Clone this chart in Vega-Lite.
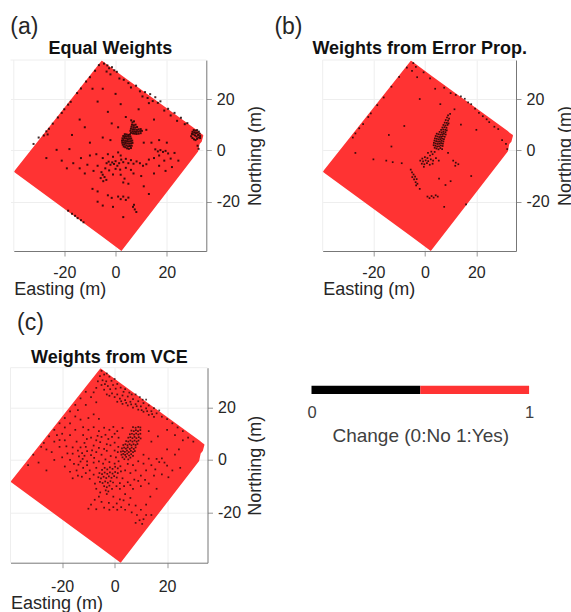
{"$schema":"https://vega.github.io/schema/vega-lite/v6.json","padding":{"left":9.5,"top":16,"right":0,"bottom":0},"background":"white","bounds":"flush","spacing":307.7,"config":{"font":"Liberation Sans","view":{"stroke":null},"axis":{"labelColor":"#262626","titleColor":"#262626","labelFontSize":16,"titleFontSize":18,"titleFontWeight":"normal","gridColor":"#eeeeee","domainColor":"#777777","tickColor":"#999999","tickSize":5,"labelPadding":5},"title":{"fontSize":23,"fontWeight":"normal","color":"#262626","anchor":"start"}},"datasets":{"outline":[{"e":-39.7,"lo":-8.3,"hi":-8.3},{"e":-5.4,"lo":-33.5,"hi":35},{"e":2.3,"lo":-39.2,"hi":29.3},{"e":32.2,"lo":-0.4,"hi":7.5},{"e":32.8,"lo":2.5,"hi":7},{"e":33.6,"lo":3.4,"hi":6.4},{"e":34.2,"lo":5.6,"hi":6}],"a":[{"x":3.2,"y":1.5},{"x":3.8,"y":1.2},{"x":4.5,"y":0.8},{"x":5.2,"y":0.6},{"x":6,"y":0.9},{"x":2.8,"y":2.2},{"x":3.5,"y":2.3},{"x":4.2,"y":1.9},{"x":4.9,"y":1.6},{"x":5.6,"y":1.7},{"x":6.3,"y":1.8},{"x":2.6,"y":3},{"x":3.2,"y":3.1},{"x":3.9,"y":2.9},{"x":4.6,"y":2.7},{"x":5.3,"y":2.6},{"x":6,"y":2.7},{"x":6.6,"y":2.9},{"x":2.5,"y":3.8},{"x":3.1,"y":4},{"x":3.8,"y":3.7},{"x":4.5,"y":3.6},{"x":5.2,"y":3.5},{"x":5.9,"y":3.6},{"x":6.5,"y":3.8},{"x":2.7,"y":4.7},{"x":3.4,"y":4.8},{"x":4.1,"y":4.6},{"x":4.8,"y":4.4},{"x":5.5,"y":4.5},{"x":6.1,"y":4.6},{"x":3,"y":5.6},{"x":3.7,"y":5.5},{"x":4.4,"y":5.4},{"x":5.1,"y":5.3},{"x":5.8,"y":5.4},{"x":3.6,"y":6.3},{"x":4.3,"y":6.2},{"x":5,"y":6},{"x":5.6,"y":6.2},{"x":6,"y":6.8},{"x":6.8,"y":6.6},{"x":7.5,"y":6.5},{"x":8.2,"y":6.4},{"x":9,"y":6.5},{"x":9.8,"y":6.7},{"x":5.8,"y":7.6},{"x":6.6,"y":7.4},{"x":7.3,"y":7.3},{"x":8,"y":7.2},{"x":8.8,"y":7.3},{"x":9.6,"y":7.5},{"x":10.3,"y":7.6},{"x":6,"y":8.4},{"x":6.8,"y":8.2},{"x":7.5,"y":8.1},{"x":8.3,"y":8},{"x":9,"y":8.2},{"x":9.8,"y":8.3},{"x":6.2,"y":9.2},{"x":7,"y":9},{"x":7.7,"y":8.9},{"x":8.4,"y":9.1},{"x":6.4,"y":10},{"x":7.1,"y":9.8},{"x":7.8,"y":10},{"x":6.6,"y":10.9},{"x":7.2,"y":11.3},{"x":6.1,"y":11.7},{"x":29.5,"y":5.5},{"x":30,"y":4.8},{"x":30.6,"y":4.3},{"x":31.2,"y":4},{"x":31.8,"y":4.5},{"x":32.4,"y":5},{"x":33,"y":5.6},{"x":29.8,"y":6.4},{"x":30.4,"y":6.2},{"x":31,"y":5.8},{"x":31.6,"y":5.4},{"x":32.2,"y":6},{"x":32.8,"y":6.5},{"x":30,"y":7.2},{"x":30.7,"y":7},{"x":31.3,"y":6.7},{"x":31.9,"y":6.9},{"x":32.5,"y":7.3},{"x":30.5,"y":7.9},{"x":31.2,"y":7.7},{"x":31.8,"y":7.9},{"x":33,"y":4.8},{"x":32,"y":1.8},{"x":32.4,"y":0.6},{"x":-4.5,"y":33.8},{"x":-3.2,"y":33.1},{"x":-2.5,"y":32},{"x":-1.4,"y":32.4},{"x":-0.5,"y":31.2},{"x":-3.5,"y":30.7},{"x":-2,"y":29.6},{"x":0.5,"y":30.6},{"x":1.5,"y":28},{"x":3.2,"y":27.5},{"x":5,"y":26.2},{"x":6,"y":24.5},{"x":8,"y":25.2},{"x":9.5,"y":23},{"x":10.5,"y":21},{"x":11.5,"y":22.7},{"x":12.5,"y":20.4},{"x":13,"y":18.4},{"x":13.5,"y":21.9},{"x":14.5,"y":19.2},{"x":15.5,"y":20.7},{"x":16.5,"y":18.5},{"x":17.5,"y":19.1},{"x":19,"y":15.5},{"x":20.5,"y":16.2},{"x":21.5,"y":13.6},{"x":23,"y":14.6},{"x":24,"y":11.5},{"x":25.5,"y":12.7},{"x":27,"y":10.2},{"x":28,"y":10.6},{"x":-6.5,"y":33.2},{"x":-8,"y":31},{"x":-10,"y":28.5},{"x":-11.5,"y":26.8},{"x":-13.5,"y":24.1},{"x":-15,"y":22.3},{"x":-17.5,"y":18.9},{"x":-18.5,"y":17.8},{"x":-20,"y":16},{"x":-21,"y":14.6},{"x":-22.5,"y":12.8},{"x":-24.5,"y":10.4},{"x":-26,"y":8.4},{"x":-27,"y":7.4},{"x":-28,"y":5.8},{"x":-26.5,"y":6.2},{"x":-9,"y":24},{"x":-7,"y":19},{"x":-3,"y":15},{"x":-1.5,"y":10.5},{"x":1,"y":9},{"x":-10,"y":3},{"x":-18,"y":0.5},{"x":-23,"y":0.2},{"x":-13.5,"y":-3},{"x":-10,"y":-2},{"x":-7.5,"y":-1.5},{"x":-5,"y":-3},{"x":-3,"y":-1.5},{"x":-1,"y":-2.5},{"x":1,"y":-0.8},{"x":2,"y":-2},{"x":-3.5,"y":-5},{"x":-2.7,"y":-4.4},{"x":-2,"y":-5.6},{"x":-1.3,"y":-4.7},{"x":-0.6,"y":-5.3},{"x":0,"y":-4.2},{"x":0.7,"y":-6},{"x":1.4,"y":-5},{"x":2.2,"y":-3.6},{"x":3,"y":-4.6},{"x":4,"y":-3.3},{"x":5,"y":-5},{"x":6,"y":-3.8},{"x":7,"y":-5.2},{"x":8.2,"y":-4.3},{"x":9.5,"y":-5},{"x":10.7,"y":-6},{"x":12,"y":-5.4},{"x":13,"y":-3.6},{"x":15.5,"y":0.4},{"x":16.5,"y":-0.4},{"x":17.5,"y":0.1},{"x":18.5,"y":-0.6},{"x":19.5,"y":-0.2},{"x":20.5,"y":-1.2},{"x":19,"y":-4},{"x":21.5,"y":-3.2},{"x":17,"y":-6},{"x":22,"y":-6.5},{"x":19.5,"y":-8},{"x":15,"y":-9},{"x":-5.5,"y":-8.5},{"x":-5,"y":-9.5},{"x":-4.3,"y":-10.4},{"x":-3.6,"y":-11.5},{"x":-5.8,"y":-10.8},{"x":-4.8,"y":-12},{"x":2,"y":-9.5},{"x":3.5,"y":-11},{"x":3,"y":-12.5},{"x":5,"y":-13},{"x":7,"y":-9},{"x":10,"y":-10},{"x":-9,"y":-15},{"x":-7,"y":-16},{"x":-3,"y":-17.5},{"x":-1.5,"y":-18.5},{"x":1,"y":-18},{"x":2,"y":-19},{"x":3,"y":-18},{"x":4,"y":-19.3},{"x":5,"y":-18.4},{"x":6.8,"y":-22},{"x":7.5,"y":-23},{"x":8.1,"y":-24},{"x":7.2,"y":-21.2},{"x":-18.5,"y":-23.5},{"x":-17,"y":-24.7},{"x":-15.8,"y":-25.5},{"x":-14.8,"y":-26.4},{"x":-13.5,"y":-27.2},{"x":-12.5,"y":-28},{"x":-27,"y":-3},{"x":-21,"y":-4},{"x":-30,"y":5},{"x":-32,"y":2.5},{"x":-4,"y":-7},{"x":-2.5,"y":-7.8},{"x":0,"y":-7.2},{"x":-1,"y":-9.4},{"x":1.8,"y":-7.5},{"x":4,"y":-6.8},{"x":6,"y":-7.6},{"x":-7,"y":-6},{"x":-8.6,"y":-8},{"x":-11,"y":-5.6},{"x":-12,"y":-9},{"x":-14,"y":-7},{"x":-16.5,"y":-5},{"x":-19,"y":-7},{"x":15,"y":-3},{"x":17,"y":-2},{"x":14,"y":3},{"x":17,"y":4},{"x":20,"y":3},{"x":23,"y":-1},{"x":24.5,"y":-4},{"x":11,"y":3},{"x":12,"y":8},{"x":15,"y":12},{"x":9,"y":16},{"x":2,"y":18},{"x":4,"y":13},{"x":-5,"y":24},{"x":0,"y":22},{"x":-14,"y":12},{"x":-12,"y":9},{"x":-17,"y":6},{"x":-5,"y":5},{"x":-2,"y":4},{"x":-7,"y":-20},{"x":-5,"y":-21.5},{"x":-1,"y":-22},{"x":11,"y":-14},{"x":13,"y":-17},{"x":3,"y":-26}],"b":[{"x":3.8,"y":1},{"x":4.5,"y":0.7},{"x":5.3,"y":0.4},{"x":6,"y":0.9},{"x":6.7,"y":0.5},{"x":3.4,"y":2},{"x":4.1,"y":1.8},{"x":4.8,"y":1.5},{"x":5.5,"y":1.6},{"x":6.2,"y":1.9},{"x":6.9,"y":1.7},{"x":3.5,"y":2.9},{"x":4.2,"y":2.7},{"x":4.9,"y":2.5},{"x":5.6,"y":2.6},{"x":6.3,"y":2.8},{"x":7,"y":2.6},{"x":3.7,"y":3.8},{"x":4.4,"y":3.6},{"x":5.1,"y":3.4},{"x":5.8,"y":3.5},{"x":6.5,"y":3.7},{"x":7.2,"y":3.5},{"x":3.9,"y":4.7},{"x":4.6,"y":4.5},{"x":5.3,"y":4.3},{"x":6,"y":4.4},{"x":6.7,"y":4.6},{"x":7.4,"y":4.4},{"x":4.2,"y":5.6},{"x":4.9,"y":5.4},{"x":5.6,"y":5.2},{"x":6.3,"y":5.3},{"x":7,"y":5.5},{"x":7.7,"y":5.3},{"x":4.6,"y":6.5},{"x":5.3,"y":6.3},{"x":6,"y":6.1},{"x":6.7,"y":6.2},{"x":7.4,"y":6.4},{"x":8.1,"y":6.2},{"x":5.7,"y":7.2},{"x":6.5,"y":7},{"x":7.2,"y":7.2},{"x":8,"y":7.1},{"x":6.3,"y":8},{"x":7.1,"y":8.1},{"x":7.9,"y":8},{"x":8.5,"y":7.8},{"x":6.8,"y":8.9},{"x":7.6,"y":9},{"x":8.4,"y":8.8},{"x":7.2,"y":9.9},{"x":8,"y":9.7},{"x":8.8,"y":9.9},{"x":7.7,"y":10.8},{"x":8.5,"y":10.7},{"x":9.2,"y":10.5},{"x":8.1,"y":11.8},{"x":9,"y":11.6},{"x":8.6,"y":12.8},{"x":9.4,"y":12.4},{"x":9,"y":13.6},{"x":9.8,"y":14.2},{"x":11.5,"y":16},{"x":2.5,"y":-0.5},{"x":3,"y":-1.5},{"x":2,"y":-2},{"x":1.2,"y":-1},{"x":3.8,"y":-0.6},{"x":1,"y":-3},{"x":0,"y":-2.6},{"x":-1,"y":-3.2},{"x":-1.8,"y":-4},{"x":-0.7,"y":-4.3},{"x":0.3,"y":-3.9},{"x":1.3,"y":-4.2},{"x":2.3,"y":-3.5},{"x":3.2,"y":-4},{"x":-1.2,"y":-5.2},{"x":-0.2,"y":-5.4},{"x":0.8,"y":-5},{"x":1.9,"y":-5.6},{"x":3,"y":-5.2},{"x":4.3,"y":-3},{"x":5.4,"y":-4},{"x":-0.4,"y":-6.4},{"x":11,"y":-4},{"x":12,"y":-4.8},{"x":13,"y":-5.4},{"x":11.8,"y":-6},{"x":9,"y":-1},{"x":-5.5,"y":-7.5},{"x":-5,"y":-8.6},{"x":-4.4,"y":-9.4},{"x":-4.9,"y":-10.4},{"x":-3.8,"y":-10.2},{"x":-4.2,"y":-11.3},{"x":-3.2,"y":-11.2},{"x":-3.6,"y":-12.4},{"x":-2.9,"y":-13},{"x":-3.4,"y":-13.6},{"x":1,"y":-18},{"x":1.8,"y":-18.6},{"x":2.6,"y":-17.8},{"x":3.4,"y":-18.4},{"x":4.2,"y":-17.5},{"x":5,"y":-18},{"x":8,"y":-13.5},{"x":5.5,"y":-11},{"x":10,"y":-12},{"x":-2,"y":-15},{"x":7.5,"y":-22},{"x":-9,"y":-5},{"x":-12.5,"y":-4.6},{"x":-15,"y":-4},{"x":-20,"y":-3.5},{"x":-4.5,"y":34},{"x":-3.5,"y":32.5},{"x":-5,"y":31},{"x":-3,"y":28.5},{"x":-0.5,"y":30.4},{"x":2,"y":28},{"x":4,"y":24},{"x":7.5,"y":24.4},{"x":10,"y":22.3},{"x":12,"y":21.6},{"x":14,"y":21},{"x":15.5,"y":20.1},{"x":16.8,"y":18.7},{"x":18,"y":18},{"x":19.5,"y":16.3},{"x":21,"y":14.6},{"x":22.5,"y":13.3},{"x":24,"y":12.1},{"x":25,"y":11},{"x":27,"y":9.2},{"x":28.5,"y":8.3},{"x":31.5,"y":2.5},{"x":32,"y":0.5},{"x":30,"y":4},{"x":-7,"y":32.2},{"x":-10,"y":28.6},{"x":-13,"y":24.8},{"x":-16,"y":20.6},{"x":-18.5,"y":17.6},{"x":-21,"y":14.4},{"x":-22,"y":13},{"x":-24,"y":10.2},{"x":-25.5,"y":8.6},{"x":-27,"y":6.6},{"x":-28,"y":5},{"x":-8,"y":9.5},{"x":-13,"y":1.5},{"x":-27,"y":-1},{"x":-14,"y":6},{"x":-2,"y":20},{"x":6,"y":18},{"x":14,"y":10},{"x":20,"y":8},{"x":18,"y":-10},{"x":16,"y":-21}],"c":[{"x":3,"y":1},{"x":3.7,"y":0.3},{"x":4.4,"y":1.2},{"x":5.2,"y":0.2},{"x":6,"y":0.9},{"x":2.6,"y":2},{"x":3.3,"y":2.3},{"x":4,"y":1.9},{"x":4.8,"y":2.4},{"x":5.5,"y":1.7},{"x":6.3,"y":2.2},{"x":7,"y":1.6},{"x":2.4,"y":3.2},{"x":3.2,"y":3.4},{"x":3.9,"y":3.1},{"x":4.7,"y":3.6},{"x":5.4,"y":3},{"x":6.2,"y":3.5},{"x":7,"y":3},{"x":7.7,"y":3.4},{"x":2.8,"y":4.4},{"x":3.6,"y":4.7},{"x":4.3,"y":4.3},{"x":5,"y":4.8},{"x":5.8,"y":4.2},{"x":6.5,"y":4.7},{"x":7.3,"y":4.2},{"x":8,"y":4.8},{"x":3.3,"y":5.7},{"x":4.1,"y":6},{"x":4.9,"y":5.6},{"x":5.7,"y":6},{"x":6.4,"y":5.6},{"x":7.2,"y":6},{"x":8,"y":5.7},{"x":8.7,"y":6.1},{"x":4.4,"y":7.2},{"x":5.2,"y":7},{"x":6,"y":7.4},{"x":6.8,"y":7},{"x":7.6,"y":7.4},{"x":8.4,"y":7},{"x":9.1,"y":7.4},{"x":5.2,"y":8.5},{"x":6,"y":8.7},{"x":6.8,"y":8.3},{"x":7.6,"y":8.8},{"x":8.3,"y":8.3},{"x":9.2,"y":8.7},{"x":9.9,"y":8.2},{"x":5.8,"y":9.8},{"x":6.6,"y":10},{"x":7.4,"y":9.7},{"x":8.2,"y":10.1},{"x":9,"y":9.7},{"x":9.8,"y":10},{"x":6.4,"y":11.2},{"x":7.3,"y":11},{"x":8.1,"y":11.4},{"x":8.9,"y":11},{"x":9.8,"y":11.4},{"x":7,"y":12.5},{"x":8,"y":12.3},{"x":9,"y":12.6},{"x":9.8,"y":12.4},{"x":1.5,"y":-0.5},{"x":0.5,"y":1},{"x":1.2,"y":3},{"x":0,"y":3.6},{"x":1.4,"y":5},{"x":0,"y":6.6},{"x":-4.8,"y":-3.8},{"x":-3.8,"y":-3},{"x":-2.8,"y":-3.6},{"x":-1.8,"y":-2.8},{"x":-0.8,"y":-3.4},{"x":0.2,"y":-2.6},{"x":1.2,"y":-3.2},{"x":2.2,"y":-2.4},{"x":-5.8,"y":-5},{"x":-4.8,"y":-5.4},{"x":-3.8,"y":-4.8},{"x":-2.8,"y":-5.3},{"x":-1.8,"y":-4.7},{"x":-0.8,"y":-5.2},{"x":0.2,"y":-4.6},{"x":1.2,"y":-5},{"x":2.4,"y":-4.4},{"x":-6.2,"y":-6.6},{"x":-5.2,"y":-7},{"x":-4.2,"y":-6.4},{"x":-3.2,"y":-6.9},{"x":-2.2,"y":-6.3},{"x":-1.2,"y":-6.8},{"x":-0.2,"y":-6.2},{"x":0.8,"y":-6.7},{"x":-5.6,"y":-8.4},{"x":-4.6,"y":-8.8},{"x":-3.6,"y":-8.2},{"x":-2.6,"y":-8.7},{"x":-1.6,"y":-8.1},{"x":-0.6,"y":-8.6},{"x":-4,"y":-10},{"x":-3,"y":-10.4},{"x":-2,"y":-9.8},{"x":-3.4,"y":-11.6},{"x":-2.4,"y":-12},{"x":-3,"y":-13},{"x":-5,"y":34},{"x":-4,"y":32.6},{"x":-5.6,"y":32},{"x":-3,"y":33},{"x":-2,"y":31.8},{"x":-4.6,"y":30.4},{"x":-3.2,"y":30},{"x":-1.2,"y":30.2},{"x":0,"y":30.9},{"x":-6.4,"y":30},{"x":-5,"y":28.6},{"x":-2.6,"y":28.2},{"x":-0.6,"y":28.6},{"x":1,"y":29},{"x":-7,"y":27.5},{"x":-4,"y":26.8},{"x":-8,"y":25.8},{"x":2.3,"y":27.6},{"x":-3,"y":25},{"x":-2,"y":24.5},{"x":-1,"y":25.4},{"x":0,"y":24},{"x":1,"y":25},{"x":2,"y":23.4},{"x":3,"y":24.6},{"x":4,"y":22.8},{"x":5,"y":24.2},{"x":6,"y":22.2},{"x":7,"y":23.2},{"x":8,"y":21.3},{"x":9,"y":22.4},{"x":10,"y":20.4},{"x":11,"y":21.7},{"x":12,"y":19.7},{"x":13,"y":20.8},{"x":14,"y":18.6},{"x":15,"y":19.8},{"x":16,"y":17.8},{"x":17,"y":18.9},{"x":1,"y":22.2},{"x":3,"y":21.4},{"x":5,"y":20.8},{"x":7,"y":20},{"x":9,"y":19.2},{"x":11,"y":18.4},{"x":13,"y":17.2},{"x":15,"y":16.4},{"x":18,"y":16.5},{"x":20,"y":15.6},{"x":22,"y":14},{"x":24,"y":12.4},{"x":26,"y":11},{"x":20,"y":11.5},{"x":23,"y":9.5},{"x":26,"y":7.5},{"x":28,"y":8.5},{"x":30,"y":7},{"x":4,"y":27},{"x":8,"y":25},{"x":12,"y":23},{"x":-9,"y":24},{"x":-11,"y":26},{"x":-13,"y":23.5},{"x":-15,"y":21},{"x":-17,"y":18.5},{"x":-19,"y":16},{"x":-21,"y":14},{"x":-23,"y":11.5},{"x":-25,"y":9},{"x":-27,"y":6.5},{"x":-28,"y":5},{"x":-14,"y":19},{"x":-11,"y":21},{"x":-7,"y":22},{"x":-17,"y":14},{"x":-20,"y":10},{"x":-23,"y":7},{"x":-26,"y":4},{"x":-24,"y":3},{"x":-21,"y":5},{"x":-19,"y":7.5},{"x":-17,"y":9.5},{"x":-15,"y":11.5},{"x":-12,"y":12.5},{"x":-10,"y":11.5},{"x":-8,"y":12.5},{"x":-6,"y":11},{"x":-4,"y":12.3},{"x":-2,"y":11.5},{"x":-0.5,"y":12.6},{"x":1,"y":11},{"x":3,"y":12.2},{"x":-12,"y":9.5},{"x":-9,"y":8.5},{"x":-6.5,"y":9.2},{"x":-3.5,"y":9.6},{"x":-1,"y":8.8},{"x":1.5,"y":8.5},{"x":-14.5,"y":7},{"x":-11.5,"y":6.5},{"x":-8,"y":5.5},{"x":-5.5,"y":6.8},{"x":-3,"y":6},{"x":-16,"y":4.8},{"x":-14,"y":3.6},{"x":-13,"y":4.8},{"x":-12.4,"y":2.6},{"x":-13.6,"y":1.4},{"x":-12.2,"y":0.4},{"x":-13,"y":-0.6},{"x":-10.5,"y":3.4},{"x":-9,"y":1.8},{"x":-7,"y":3},{"x":-5,"y":2},{"x":-3,"y":3.5},{"x":-1.5,"y":1.5},{"x":-18,"y":2.5},{"x":-20,"y":1},{"x":-23,"y":0},{"x":-17,"y":0},{"x":-15.5,"y":-1.5},{"x":-10.5,"y":-0.5},{"x":-8,"y":-1},{"x":-6,"y":-0.5},{"x":-3.5,"y":0.2},{"x":-19,"y":-2.5},{"x":-17,"y":-4.5},{"x":-14.5,"y":-4},{"x":-12,"y":-3},{"x":-9.5,"y":-4},{"x":-7,"y":-3},{"x":-16,"y":-7},{"x":-12.5,"y":-6.4},{"x":-9.5,"y":-7.2},{"x":-7.5,"y":-9},{"x":5,"y":-1.5},{"x":7,"y":-2},{"x":9,"y":-0.5},{"x":11,"y":-1.4},{"x":4,"y":-4},{"x":6,"y":-5},{"x":8,"y":-4},{"x":10,"y":-6},{"x":3,"y":-7},{"x":5,"y":-8.5},{"x":7.5,"y":-7.5},{"x":12,"y":-4},{"x":14,"y":-2},{"x":16,"y":0.4},{"x":17,"y":-0.8},{"x":18,"y":0.6},{"x":19,"y":-1},{"x":20,"y":-2.2},{"x":15,"y":-6},{"x":18,"y":-5.5},{"x":22,"y":-4},{"x":25,"y":-3},{"x":13,"y":-9},{"x":16,"y":-11},{"x":2,"y":-11},{"x":4,"y":-13},{"x":7,"y":-11},{"x":10,"y":-10},{"x":-0.5,"y":-14},{"x":2,"y":-15},{"x":6,"y":-14.5},{"x":-6,"y":-14},{"x":-9,"y":-17},{"x":-10,"y":-18.6},{"x":-7,"y":-18.8},{"x":-4,"y":-18.2},{"x":-2,"y":-19},{"x":-0.5,"y":-18},{"x":1,"y":-19},{"x":2.5,"y":-18},{"x":4,"y":-19},{"x":6.5,"y":-20},{"x":8.5,"y":-21},{"x":9.5,"y":-23},{"x":10.5,"y":-24.4},{"x":8,"y":-24},{"x":12,"y":-17},{"x":14,"y":-21},{"x":-29,"y":-1},{"x":-31,"y":2},{"x":-33,"y":-2},{"x":-26,"y":-4},{"x":-3.7,"y":28.9},{"x":-1.7,"y":27},{"x":0.4,"y":27.2},{"x":3.4,"y":26},{"x":5.6,"y":25.7},{"x":6.5,"y":25},{"x":9.6,"y":24},{"x":10.7,"y":23},{"x":2.5,"y":22.4},{"x":4.4,"y":21.8},{"x":6.3,"y":21.2},{"x":8.4,"y":20.5},{"x":10.3,"y":19},{"x":12.4,"y":18.6},{"x":14.3,"y":17.5},{"x":-10,"y":16},{"x":-8,"y":17.4},{"x":-6,"y":15.7},{"x":-13,"y":15.4},{"x":-15,"y":16.6},{"x":-19,"y":12.4},{"x":-22,"y":9.5},{"x":-21,"y":7.6},{"x":-18.4,"y":5.2},{"x":-16,"y":2.4},{"x":-10.6,"y":8},{"x":-7,"y":7.5},{"x":-5,"y":8.8},{"x":-2.4,"y":8},{"x":0,"y":10},{"x":-11,"y":5},{"x":-8.6,"y":3.7},{"x":-6,"y":4.6},{"x":-4,"y":4.2},{"x":-1.6,"y":5.6},{"x":-11.5,"y":1.6},{"x":-7.8,"y":0.8},{"x":-4.4,"y":-1.4},{"x":-2,"y":-0.8},{"x":0,"y":-1.4},{"x":-13.8,"y":-1.8},{"x":-11,"y":-5},{"x":-8,"y":-5.6},{"x":-10.5,"y":-2},{"x":-14,"y":-6},{"x":-7,"y":-11},{"x":-5.5,"y":-12.4},{"x":-1,"y":-11},{"x":0.7,"y":-10},{"x":2,"y":-8.8},{"x":3.6,"y":-10},{"x":6,"y":-9.6},{"x":9,"y":-8},{"x":11.6,"y":-7.6},{"x":3.4,"y":-15.4},{"x":0.8,"y":-16.6},{"x":-2.2,"y":-16.4},{"x":-5,"y":-16},{"x":-7.6,"y":-15.2},{"x":5.5,"y":-17},{"x":8,"y":-17.4},{"x":10,"y":-19},{"x":12,"y":-21},{"x":11,"y":-22.6},{"x":13.6,"y":-14},{"x":15.5,"y":-3.6},{"x":20.5,"y":-6.6},{"x":23,"y":2},{"x":20,"y":4},{"x":14,"y":7},{"x":13,"y":11},{"x":16.5,"y":9},{"x":24.5,"y":4},{"x":11,"y":2},{"x":13,"y":0.5}]},"vconcat":[{"bounds":"flush","spacing":116.2,"hconcat":[{"width":195.8,"height":191,"title":{"text":"(a)","dx":0.3,"offset":1},"layer":[{"data":{"name":"outline"},"mark":{"type":"area","color":"#ff3333"},"encoding":{"x":{"field":"e","type":"quantitative","scale":{"domain":[-39.7,35.4],"range":[3.3,195.8],"nice":false,"zero":false},"axis":{"values":[-20,0,20],"title":"Easting (m)","titleAnchor":"start","titleAlign":"left","titlePadding":0,"grid":true,"labelPadding":8,"labelExpr":"replace(datum.label,'−','-')"}},"y":{"field":"lo","type":"quantitative","scale":{"domain":[-39.2,35.2],"nice":false,"zero":false},"axis":{"values":[-20,0,20],"orient":"right","title":"Northing (m)","titleAngle":270,"titleBaseline":"top","grid":true,"titlePadding":7.5,"labelExpr":"replace(datum.label,'−','-')"}},"y2":{"field":"hi"}}},{"data":{"name":"a"},"mark":{"type":"square","size":4,"color":"#1c0404","opacity":0.85},"encoding":{"x":{"field":"x","type":"quantitative"},"y":{"field":"y","type":"quantitative"}}},{"data":{"values":[{"tag":"Equal Weights"}]},"mark":{"type":"text","fontSize":18,"fontWeight":"bold","align":"center","baseline":"alphabetic","color":"#111111"},"encoding":{"x":{"datum":-2},"y":{"datum":37.4},"text":{"field":"tag"}}},{"data":{"values":[{"tag":"edge"}]},"mark":{"type":"rule","color":"#eeeeee"},"encoding":{"x":{"datum":-39.7}}},{"data":{"values":[{"tag":"edge"}]},"mark":{"type":"rule","color":"#eeeeee"},"encoding":{"y":{"datum":35.2}}}]},{"width":193.3,"height":191,"title":{"text":"(b)","dx":-38,"offset":1},"layer":[{"data":{"name":"outline"},"mark":{"type":"area","color":"#ff3333"},"encoding":{"x":{"field":"e","type":"quantitative","scale":{"domain":[-39.7,35.4],"nice":false,"zero":false},"axis":{"values":[-20,0,20],"title":"Easting (m)","titleAnchor":"start","titleAlign":"left","titlePadding":0,"grid":true,"labelPadding":8,"labelExpr":"replace(datum.label,'−','-')"}},"y":{"field":"lo","type":"quantitative","scale":{"domain":[-39.2,35.2],"nice":false,"zero":false},"axis":{"values":[-20,0,20],"orient":"right","title":"Northing (m)","titleAngle":270,"titleBaseline":"top","grid":true,"titlePadding":7,"labelExpr":"replace(datum.label,'−','-')"}},"y2":{"field":"hi"}}},{"data":{"name":"b"},"mark":{"type":"square","size":3,"color":"#1c0404","opacity":0.85},"encoding":{"x":{"field":"x","type":"quantitative"},"y":{"field":"y","type":"quantitative"}}},{"data":{"values":[{"tag":"Weights from Error Prop."}]},"mark":{"type":"text","fontSize":18,"fontWeight":"bold","align":"center","baseline":"alphabetic","color":"#111111"},"encoding":{"x":{"datum":-2},"y":{"datum":37.4},"text":{"field":"tag"}}},{"data":{"values":[{"tag":"edge"}]},"mark":{"type":"rule","color":"#eeeeee"},"encoding":{"x":{"datum":-39.7}}},{"data":{"values":[{"tag":"edge"}]},"mark":{"type":"rule","color":"#eeeeee"},"encoding":{"y":{"datum":35.2}}}]}]},{"bounds":"flush","spacing":104,"hconcat":[{"width":197,"height":195,"title":{"text":"(c)","dx":7,"offset":14},"layer":[{"data":{"name":"outline"},"mark":{"type":"area","color":"#ff3333"},"encoding":{"x":{"field":"e","type":"quantitative","scale":{"domain":[-39.7,35.4],"nice":false,"zero":false},"axis":{"values":[-20,0,20],"title":"Easting (m)","titleAnchor":"start","titleAlign":"left","titlePadding":0,"grid":true,"labelPadding":11,"labelExpr":"replace(datum.label,'−','-')"}},"y":{"field":"lo","type":"quantitative","scale":{"domain":[-39.2,35.2],"nice":false,"zero":false},"axis":{"values":[-20,0,20],"orient":"right","title":"Northing (m)","titleAngle":270,"titleBaseline":"top","grid":true,"titlePadding":6,"labelExpr":"replace(datum.label,'−','-')"}},"y2":{"field":"hi"}}},{"data":{"name":"c"},"mark":{"type":"square","size":3,"color":"#1c0404","opacity":0.75},"encoding":{"x":{"field":"x","type":"quantitative"},"y":{"field":"y","type":"quantitative"}}},{"data":{"values":[{"tag":"Weights from VCE"}]},"mark":{"type":"text","fontSize":18,"fontWeight":"bold","align":"center","baseline":"alphabetic","color":"#111111"},"encoding":{"x":{"datum":-2},"y":{"datum":37},"text":{"field":"tag"}}},{"data":{"values":[{"tag":"edge"}]},"mark":{"type":"rule","color":"#eeeeee"},"encoding":{"x":{"datum":-39.7}}},{"data":{"values":[{"tag":"edge"}]},"mark":{"type":"rule","color":"#eeeeee"},"encoding":{"y":{"datum":35.2}}}]},{"width":217.6,"height":26.3,"data":{"values":[{"from":0,"to":0.5,"change":"No"},{"from":0.5,"to":1,"change":"Yes"}]},"mark":{"type":"rect"},"encoding":{"x":{"field":"from","type":"quantitative","scale":{"domain":[0,1],"nice":false},"axis":{"values":[0,1],"title":"Change (0:No 1:Yes)","format":"d","grid":false,"domain":false,"ticks":false,"labelPadding":10,"labelFontSize":16.5,"titleFontSize":19,"titlePadding":6,"labelFlush":false,"labelColor":"#404040","titleColor":"#404040"}},"x2":{"field":"to"},"y":{"datum":0,"type":"quantitative","scale":{"domain":[0,26.3],"nice":false},"axis":null},"y2":{"datum":8.3},"color":{"field":"change","type":"nominal","scale":{"domain":["No","Yes"],"range":["#000000","#ff3333"]},"legend":null}}}]}]}
